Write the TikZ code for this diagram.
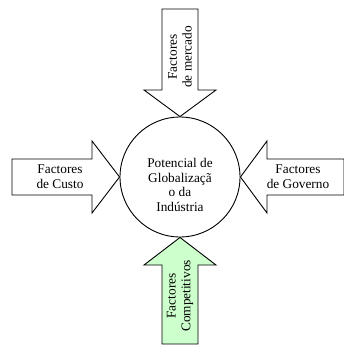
\documentclass[tikz,border=0pt]{standalone}
\usepackage{fontspec}
\setmainfont{Liberation Serif}
\definecolor{paleGreen}{HTML}{CCFFCC}

\begin{document}
\begin{tikzpicture}[x=1pt, y=-1pt,
		factorArrow/.style = {draw, line width=0.9pt, line join=miter, fill=white},
		factorText/.style = {align=center, inner sep=0pt, font=\fontsize{13.3}{14.8}\selectfont}]
		\useasboundingbox (0,0) rectangle (343,345);
		% centre
		\node[circle, draw, line width=0.9pt, minimum size=120pt, inner sep=0pt] (pot) at (180,177) {};
		\node[factorText] (potText) at (180,185) {Potencial de\\Globaliza\c{c}\~a\\o da\\Ind\'ustria};
		% arrows pointing in
		\draw[factorArrow] (pot.north) -- (144,90) -- (162,90) -- (162,9) -- (198,9) -- (198,90) -- (216,90) -- cycle;
		\draw[factorArrow] (pot.west) -- (92,141) -- (92,159) -- (12,159) -- (12,195) -- (92,195) -- (92,213) -- cycle;
		\draw[factorArrow] (pot.east) -- (267,141) -- (267,159) -- (344,159) -- (344,195) -- (267,195) -- (267,213) -- cycle;
		\draw[factorArrow, fill=paleGreen] (pot.south) -- (144,265) -- (162,265) -- (162,344) -- (198,344) -- (198,265) -- (216,265) -- cycle;
		% labels
		\node[factorText, rotate=90] (mercado) at (180,57) {Factores\\de mercado};
		\node[factorText] (custo) at (60,177) {Factores\\de Custo};
		\node[factorText] (governo) at (298,177) {Factores\\de Governo};
		\node[factorText, rotate=90] (competitivos) at (180,296) {Factores\\Competitivos};
	\end{tikzpicture}
\end{document}
